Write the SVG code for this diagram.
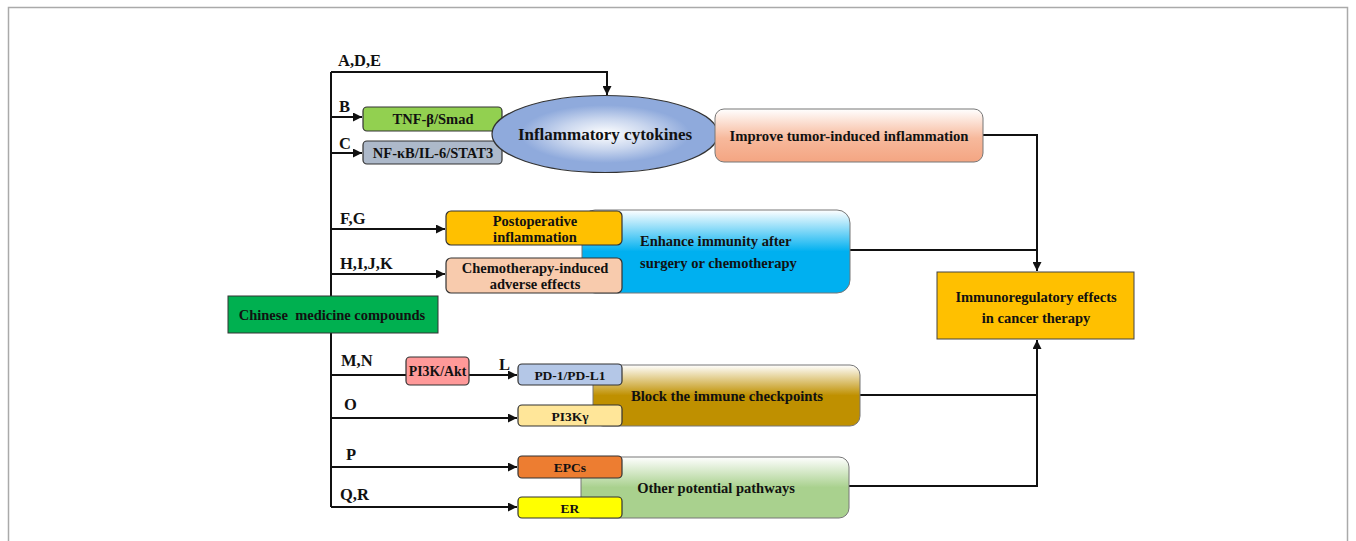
<svg xmlns="http://www.w3.org/2000/svg" width="1356" height="541" viewBox="0 0 1356 541">
<style>
text{font-family:"Liberation Serif","Times New Roman",serif;font-weight:bold;fill:#111;}
.lbl{font-size:16.5px;}
.t13{font-size:14.5px;text-anchor:middle;}
.t14{font-size:14.5px;}
.ln{fill:none;stroke:#111;stroke-width:2;}
.bx{stroke:#333;stroke-width:1.2;}
</style>
<defs>
<marker id="ah" viewBox="0 0 10 10" refX="10" refY="5" markerWidth="9" markerHeight="9" markerUnits="userSpaceOnUse" orient="auto"><path d="M0,0L10,5L0,10z" fill="#111"/></marker>
<radialGradient id="gEll" cx="0.5" cy="0.5" r="0.5"><stop offset="0" stop-color="#ffffff"/><stop offset="0.4" stop-color="#c9d6ee"/><stop offset="0.75" stop-color="#8FAADC"/><stop offset="1" stop-color="#8FAADC"/></radialGradient>
<linearGradient id="gImp" x1="0" y1="0" x2="0" y2="1"><stop offset="0" stop-color="#fff"/><stop offset="0.55" stop-color="#F7B99C"/><stop offset="1" stop-color="#F4A582"/></linearGradient>
<linearGradient id="gEnh" x1="0" y1="0" x2="0" y2="1"><stop offset="0" stop-color="#fff"/><stop offset="0.5" stop-color="#00B0F0"/><stop offset="1" stop-color="#00B0F0"/></linearGradient>
<linearGradient id="gBlk" x1="0" y1="0" x2="0" y2="1"><stop offset="0" stop-color="#fff"/><stop offset="0.5" stop-color="#BF9000"/><stop offset="1" stop-color="#BF9000"/></linearGradient>
<linearGradient id="gOth" x1="0" y1="0" x2="0" y2="1"><stop offset="0" stop-color="#fff"/><stop offset="0.5" stop-color="#A9D18E"/><stop offset="1" stop-color="#A9D18E"/></linearGradient>
</defs>
<rect width="1356" height="541" fill="#fff"/>
<path d="M8.5,541V7.5H1347.5V541" fill="none" stroke="#aaa" stroke-width="1.5"/>

<g id="connectors">
<path class="ln" d="M331,72V507"/>
<path class="ln" d="M331,72H607V95" marker-end="url(#ah)"/>
<path class="ln" d="M331,117H362" marker-end="url(#ah)"/>
<path class="ln" d="M331,153H362" marker-end="url(#ah)"/>
<path class="ln" d="M331,229H445" marker-end="url(#ah)"/>
<path class="ln" d="M331,274H445" marker-end="url(#ah)"/>
<path class="ln" d="M331,375H406"/>
<path class="ln" d="M469,375H517" marker-end="url(#ah)"/>
<path class="ln" d="M331,418H517" marker-end="url(#ah)"/>
<path class="ln" d="M331,467H517" marker-end="url(#ah)"/>
<path class="ln" d="M331,507H517" marker-end="url(#ah)"/>
<path class="ln" d="M983,135H1037V271" marker-end="url(#ah)"/>
<path class="ln" d="M850,250H1037"/>
<path class="ln" d="M860,395H1037"/>
<path class="ln" d="M849,486H1037V340" marker-end="url(#ah)"/>
</g>

<g id="labels">
<text class="lbl" x="338" y="66">A,D,E</text>
<text class="lbl" x="339" y="112">B</text>
<text class="lbl" x="339" y="149">C</text>
<text class="lbl" x="340" y="224">F,G</text>
<text class="lbl" x="340" y="269">H,I,J,K</text>
<text class="lbl" x="341" y="366">M,N</text>
<text class="lbl" x="499" y="370">L</text>
<text class="lbl" x="344" y="410">O</text>
<text class="lbl" x="346" y="460">P</text>
<text class="lbl" x="340" y="500">Q,R</text>
</g>

<g id="tnf"><rect class="bx" x="363" y="107" width="139" height="24" rx="4" fill="#92D050"/><text class="t13" x="433" y="124">TNF-β/Smad</text></g>
<g id="nfkb"><rect class="bx" x="363" y="141" width="139" height="23" rx="4" fill="#ADB9CA"/><text class="t13" x="433" y="158">NF-κB/IL-6/STAT3</text></g>
<g id="cytokines"><ellipse cx="605" cy="134" rx="113" ry="38.5" fill="url(#gEll)" stroke="#333" stroke-width="1.2"/><text x="605" y="140" style="font-size:17px;text-anchor:middle">Inflammatory cytokines</text></g>
<g id="improve"><rect x="715" y="109" width="268" height="53" rx="9" fill="url(#gImp)" stroke="#777" stroke-width="1"/><text x="849" y="141" style="font-size:14.7px;text-anchor:middle">Improve tumor-induced inflammation</text></g>

<g id="enhance"><rect x="582" y="210" width="268" height="83" rx="13" fill="url(#gEnh)" stroke="#777" stroke-width="1"/><text class="t14" x="640" y="246">Enhance immunity after</text><text class="t14" x="640" y="268">surgery or chemotherapy</text></g>
<g id="postop"><rect class="bx" x="446" y="211" width="176" height="34" rx="5" fill="#FFC000"/><text class="t13" x="535" y="226">Postoperative</text><text class="t13" x="535" y="242">inflammation</text></g>
<g id="chemo"><rect class="bx" x="446" y="258" width="176" height="35" rx="5" fill="#F8CBAD"/><text class="t13" x="535" y="273">Chemotherapy-induced</text><text class="t13" x="535" y="289">adverse effects</text></g>

<g id="chinese"><rect x="228" y="296" width="210" height="37" fill="#00B050" stroke="#333" stroke-width="1"/><text x="332" y="320" style="font-size:14.5px;text-anchor:middle;white-space:pre">Chinese  medicine compounds</text></g>

<g id="block"><rect x="593" y="365" width="267" height="61" rx="10" fill="url(#gBlk)" stroke="#777" stroke-width="1"/><text x="727" y="401" style="font-size:14.7px;text-anchor:middle">Block the immune checkpoints</text></g>
<g id="pi3kakt"><rect class="bx" x="406" y="357" width="63" height="28" rx="4" fill="#FF9999"/><text x="437.5" y="376" style="font-size:13.8px;text-anchor:middle">PI3K/Akt</text></g>
<g id="pd1"><rect class="bx" x="518" y="364" width="104" height="21" rx="4" fill="#B4C7E7"/><text x="570" y="380" style="font-size:13.5px;text-anchor:middle">PD-1/PD-L1</text></g>
<g id="pi3kg"><rect class="bx" x="518" y="405" width="104" height="21" rx="4" fill="#FFE699"/><text x="570" y="421" style="font-size:13.5px;text-anchor:middle">PI3Kγ</text></g>

<g id="other"><rect x="581" y="457" width="268" height="61" rx="10" fill="url(#gOth)" stroke="#777" stroke-width="1"/><text class="t13" x="716" y="493">Other potential pathways</text></g>
<g id="epcs"><rect class="bx" x="518" y="456" width="104" height="22" rx="4" fill="#ED7D31"/><text x="570" y="472" style="font-size:13.5px;text-anchor:middle">EPCs</text></g>
<g id="er"><rect class="bx" x="518" y="497" width="104" height="21" rx="4" fill="#FFFF00"/><text x="570" y="513" style="font-size:13.5px;text-anchor:middle">ER</text></g>

<g id="immuno"><rect x="937" y="272" width="197" height="67" fill="#FFC000" stroke="#444" stroke-width="1"/><text class="t13" x="1036" y="302">Immunoregulatory effects</text><text class="t13" x="1036" y="323">in cancer therapy</text></g>
</svg>
